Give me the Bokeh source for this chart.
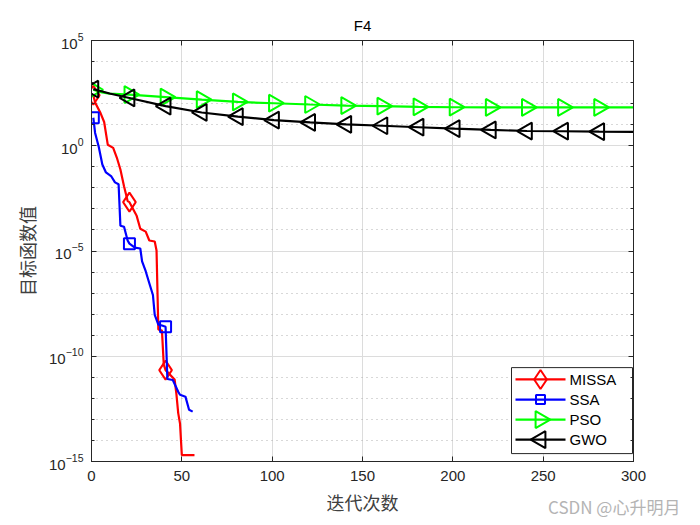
import numpy as np
from bokeh.plotting import figure
from bokeh.layouts import column
from bokeh.models import (Range1d, FixedTicker, LogAxis, LinearAxis, LinearScale,
                          ColumnDataSource, Div)
from bokeh.core.properties import value
from bokeh.embed import file_html
from bokeh.resources import INLINE

# ---------------- data (log10 of objective value) ----------------
missa_iter = [1, 2, 5, 7, 9, 12, 14, 16, 18, 20, 21, 25, 27, 30, 32, 35, 36, 37, 39, 40, 41,
              46, 47, 48, 49, 50, 57]
missa_log = [2.4, 2.05, 1.55, 1.13, 0.05, -0.1, -0.56, -1.13, -1.92, -2.63, -2.68, -3.33, -3.94,
             -4.08, -4.5, -4.55, -4.98, -8.73, -8.78, -10.4, -10.66, -11.1, -11.8, -12.7, -13.2,
             -14.7, -14.7]

ssa_iter = [1, 2, 4, 6, 8, 11, 13, 15, 16, 18, 20, 21, 24, 27, 28, 30, 32, 34, 35, 37, 39, 41,
            42, 45, 48, 49, 52, 54, 56]
ssa_log = [1.33, 0.61, -0.05, -0.89, -1.27, -1.46, -1.74, -1.83, -3.8, -3.85, -4.5, -4.65, -4.84,
           -4.88, -5.49, -5.96, -6.53, -7.09, -8.03, -8.5, -8.54, -8.6, -11.08, -11.13, -11.69,
           -11.83, -11.92, -12.54, -12.63]

pso_iter = [1, 5, 10, 21, 41, 61, 81, 101, 121, 141, 161, 181, 201, 221, 241, 261, 281, 300]
pso_log = [2.66, 2.55, 2.48, 2.43, 2.31, 2.19, 2.08, 2.02, 1.96, 1.91, 1.88, 1.85, 1.83, 1.82,
           1.82, 1.82, 1.82, 1.82]

gwo_iter = [1, 5, 10, 21, 41, 61, 81, 101, 121, 141, 161, 181, 201, 221, 241, 261, 281, 300]
gwo_log = [2.69, 2.6, 2.48, 2.27, 1.88, 1.58, 1.38, 1.22, 1.11, 1.02, 0.95, 0.88, 0.81, 0.75,
           0.70, 0.69, 0.67, 0.66]

names = ["MISSA", "SSA", "PSO", "GWO"]
y_major = [1e-15, 1e-10, 1e-5, 1e0, 1e5]
y_minor = [10.0 ** k for k in range(-15, 6)]
x_ticks = [0, 50, 100, 150, 200, 250, 300]

# ---------------- figure ----------------
FONT = "Liberation Sans"
CJK = "Noto Sans CJK SC"
AX = "#262626"
W, H = 692, 517
ML, MR, MT, MB = 91, 59, 40, 51
FW, FH = W - ML - MR, H - MT - MB   # frame size in px

p = figure(width=W, height=H, output_backend="svg", toolbar_location=None,
           y_axis_type="log", x_range=Range1d(0, 300), y_range=Range1d(1e-15, 1e5),
           min_border_left=ML, min_border_right=MR, min_border_top=MT, min_border_bottom=MB)
p.background_fill_color = "white"
p.border_fill_color = "white"
p.outline_line_color = AX
p.outline_line_width = 1

p.title.text = "F4"
p.title.align = "center"
p.title.text_font = FONT
p.title.text_font_size = "15px"
p.title.text_font_style = "normal"
p.title.text_color = "#000000"
p.title.standoff = 14

yt = FixedTicker(ticks=y_major, minor_ticks=y_minor)
xt = FixedTicker(ticks=x_ticks, minor_ticks=[])
p.yaxis.ticker = yt
p.xaxis.ticker = xt

for ax in p.xaxis + p.yaxis:
    ax.major_tick_in = 5
    ax.major_tick_out = 0
    ax.minor_tick_in = 3
    ax.minor_tick_out = 0
    ax.axis_line_color = AX
    ax.major_tick_line_color = AX
    ax.minor_tick_line_color = AX
    ax.major_label_text_font = FONT
    ax.major_label_text_font_size = "15px"
    ax.major_label_text_color = AX
    ax.axis_label_text_font = CJK
    ax.axis_label_text_font_size = "18px"
    ax.axis_label_text_font_style = "normal"
    ax.axis_label_text_color = "#404040"

p.xaxis.axis_label = "迭代次数"
p.yaxis.axis_label = "目标函数值"
p.xaxis.major_label_standoff = 9
p.xaxis.axis_label_standoff = 5
p.yaxis.major_label_standoff = 8
p.yaxis.axis_label_standoff = 6

# box axes (top / right): tick marks only, labels not painted
top = LinearAxis(ticker=xt, major_label_text_font_size="1px", major_label_text_color=None,
                 major_tick_in=5, major_tick_out=0, minor_tick_in=0, minor_tick_out=0,
                 axis_line_color=AX, major_tick_line_color=AX, major_label_standoff=0)
right = LogAxis(ticker=yt, major_label_text_font_size="1px", major_label_text_color=None,
                major_tick_in=5, major_tick_out=0, minor_tick_in=3, minor_tick_out=0,
                axis_line_color=AX, major_tick_line_color=AX, minor_tick_line_color=AX,
                major_label_standoff=0)
p.add_layout(top, "above")
p.add_layout(right, "right")

p.xgrid.ticker = xt
p.ygrid.ticker = yt
p.xgrid.grid_line_color = "#dcdcdc"
p.ygrid.grid_line_color = "#dcdcdc"
p.ygrid.minor_grid_line_color = "#b0b0b0"
p.ygrid.minor_grid_line_dash = "1 4"
p.ygrid.minor_grid_line_width = 1

# ---------------- series ----------------
series = [
    (missa_iter, missa_log, "#ff0000", "diamond", 19, 0.0, 19),
    (ssa_iter, ssa_log, "#0000ff", "square", 11, 0.0, 9),
    (pso_iter, pso_log, "#00ff00", "triangle", 17, -np.pi / 2, 17),
    (gwo_iter, gwo_log, "#000000", "triangle", 17, np.pi / 2, 17),
]

for name, (it, lg, col, mk, sz, ang, lsz) in zip(names, series):
    it = np.asarray(it, dtype=float)
    val = 10.0 ** np.asarray(lg, dtype=float)
    p.line(it, val, line_color=col, line_width=2.2)
    mask = ((it - 1) % 20) == 0
    src = ColumnDataSource(dict(x=it[mask], y=val[mask]))
    p.scatter("x", "y", source=src, marker=mk, size=sz, angle=ang,
              line_color=col, line_width=2, fill_color=None)

# ---------------- legend (drawn in frame-pixel coordinates) ----------------
p.extra_x_ranges = {"leg": Range1d(0, FW)}
p.extra_y_ranges = {"leg": Range1d(0, FH)}
p.extra_x_scales = {"leg": LinearScale()}
p.extra_y_scales = {"leg": LinearScale()}

leg_l, leg_r, leg_b, leg_t = FW - 122, FW - 1, 8, 95
row_y = [leg_t - 12 - 20.3 * i for i in range(len(names))]
gx0, gx1 = leg_l + 4, leg_l + 54
gx = (gx0 + gx1) / 2

p.quad(left=[leg_l], right=[leg_r], bottom=[leg_b], top=[leg_t], fill_color="white",
       line_color=AX, line_width=1, x_range_name="leg", y_range_name="leg")
for i, (name, (it, lg, col, mk, sz, ang, lsz)) in enumerate(zip(names, series)):
    p.segment(x0=[gx0], y0=[row_y[i]], x1=[gx1], y1=[row_y[i]], line_color=col, line_width=2.2,
              x_range_name="leg", y_range_name="leg")
    p.scatter(x=[gx], y=[row_y[i]], marker=mk, size=lsz, angle=ang, line_color=col,
              line_width=2, fill_color=None, x_range_name="leg", y_range_name="leg")
p.text(x=[gx1 + 4] * len(names), y=row_y, text=names, text_font=value(FONT),
       text_font_size="15px", text_color="#000000", text_baseline="middle", text_align="left",
       x_range_name="leg", y_range_name="leg")

wm = Div(text="CSDN @心升明月", width=144, height=20, margin=(-20, 0, 0, 548),
         styles={"font-family": CJK, "font-size": "17px", "color": "#b4b4b4",
                 "white-space": "nowrap", "line-height": "20px", "overflow": "visible"})

layout = column(p, wm, spacing=0)
open("out.html", "w").write(file_html(layout, INLINE))
